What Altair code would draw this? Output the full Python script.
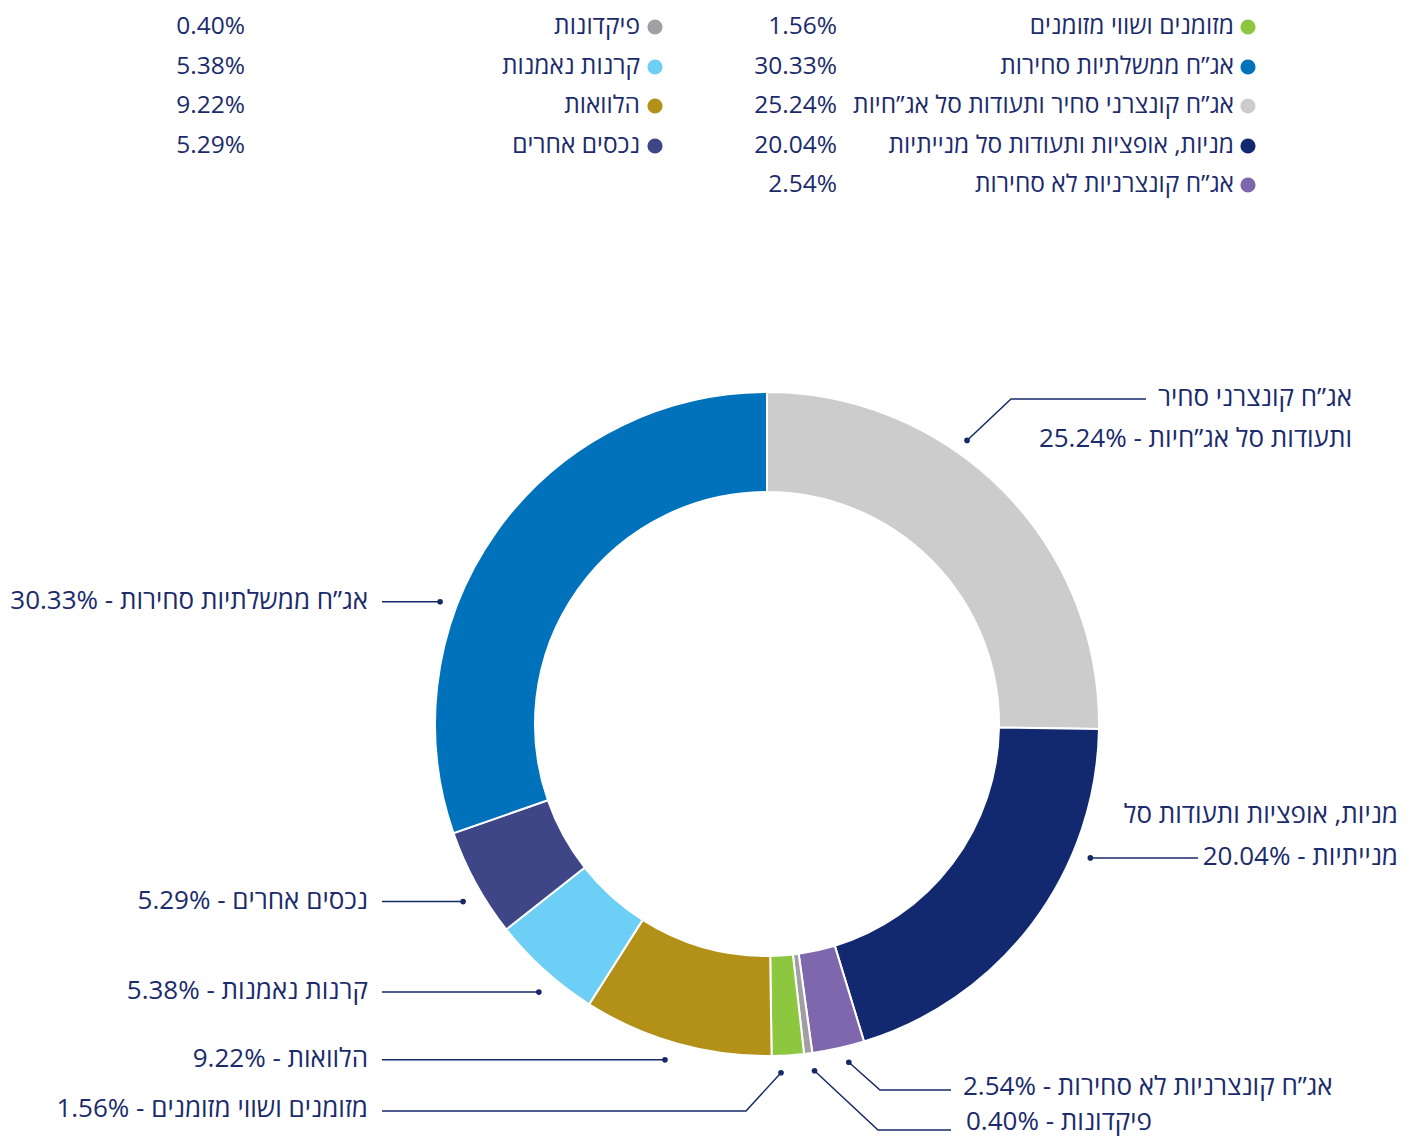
import math
import altair as alt
import pandas as pd

# ---------------- data ----------------
categories = [
    "אג”ח קונצרני סחיר ותעודות סל אג”חיות",
    "מניות, אופציות ותעודות סל מנייתיות",
    "אג”ח קונצרניות לא סחירות",
    "פיקדונות",
    "מזומנים ושווי מזומנים",
    "הלוואות",
    "קרנות נאמנות",
    "נכסים אחרים",
    "אג”ח ממשלתיות סחירות",
]
values = [25.24, 20.04, 2.54, 0.40, 1.56, 9.22, 5.38, 5.29, 30.33]
colors = ["#cccccc", "#13296f", "#7f67ad", "#a0a0a4", "#8dc63f",
          "#b39018", "#6dcff6", "#3f4688", "#0072bc"]

# slice-label text lines (the percentage is appended to the last line)
label_lines = [
    ["אג”ח קונצרני סחיר", "ותעודות סל אג”חיות"],
    ["מניות, אופציות ותעודות סל", "מנייתיות"],
    ["אג”ח קונצרניות לא סחירות"],
    ["פיקדונות"],
    ["מזומנים ושווי מזומנים"],
    ["הלוואות"],
    ["קרנות נאמנות"],
    ["נכסים אחרים"],
    ["אג”ח ממשלתיות סחירות"],
]

# legend: category indexes for right column then left column
legend_right = [4, 8, 0, 1, 2]
legend_left = [3, 6, 5, 7]

# ---------------- layout ----------------
W, H = 1415, 1138
CX, CY = 767, 724
R_OUT, R_IN = 332, 232
TXT = "#1b2b6b"
LINE = "#172a68"
FONT = "Open Sans"
FS_LABEL = 26
FS_LEG = 24.5

label_layout = [
    dict(ang=35.2, r=347, path=[(1011, 399), (1146, 399)], align="right", tx=1352, ty=[398, 439]),
    dict(ang=112.5, r=350, path=[(1198, None)], align="right", tx=1398, ty=[815, 857]),
    dict(ang=166.4, r=348, path=[(880, 1090), (951, 1090)], align="left", tx=963, ty=[1087]),
    dict(ang=172.2, r=350, path=[(878, 1130), (951, 1130)], align="left", tx=966, ty=[1122]),
    dict(ang=177.7, r=349, path=[(746, 1111), (382, 1111)], align="right", tx=368, ty=[1109]),
    dict(ang=196.9, r=351, path=[(382, None)], align="right", tx=368, ty=[None]),
    dict(ang=220.4, r=352, path=[(382, None)], align="right", tx=368, ty=[None]),
    dict(ang=239.7, r=352, path=[(382, None)], align="right", tx=368, ty=[None]),
    dict(ang=290.5, r=349, path=[(382, None)], align="right", tx=368, ty=[None]),
]

legend_cols = [
    dict(cx=1248, tx=1234, px=837, rows=legend_right),
    dict(cx=655, tx=640, px=245, rows=legend_left),
]
legend_row_y = [27, 67, 106, 146, 185]


def pct(v):
    return f"{v:.2f}%"


# ---------------- tables ----------------
slices = pd.DataFrame({
    "cat": categories,
    "value": values,
    "color": colors,
    "idx": list(range(len(categories))),
})

line_rows, dot_rows, text_rows = [], [], []
for i, lay in enumerate(label_layout):
    a = math.radians(lay["ang"])
    dx = CX + lay["r"] * math.sin(a)
    dy = CY - lay["r"] * math.cos(a)
    dot_rows.append({"cat": categories[i], "x": dx, "y": dy})
    pts = [(dx, dy)] + [(px, dy if py is None else py) for px, py in lay["path"]]
    for s, (px, py) in enumerate(pts):
        line_rows.append({"cat": categories[i], "seq": s, "x": px, "y": py})
    lines = list(label_lines[i])
    lines[-1] = lines[-1] + " - " + pct(values[i])
    for ln, ty in zip(lines, lay["ty"]):
        text_rows.append({"text": ln, "x": lay["tx"], "y": dy - 1 if ty is None else ty,
                          "align": lay["align"]})

leg_rows = []
for col in legend_cols:
    for r, ci in enumerate(col["rows"]):
        leg_rows.append({"cat": categories[ci], "color": colors[ci],
                         "name": categories[ci], "pct": pct(values[ci]),
                         "y": legend_row_y[r],
                         "cx": col["cx"], "tx": col["tx"], "px": col["px"]})
lines_df = pd.DataFrame(line_rows)
dots_df = pd.DataFrame(dot_rows)
text_df = pd.DataFrame(text_rows)
leg_df = pd.DataFrame(leg_rows)

xs = alt.Scale(domain=[0, W], range=[0, W], nice=False, zero=False)
ys = alt.Scale(domain=[0, H], range=[0, H], nice=False, zero=False)


def X(f):
    return alt.X(f + ":Q", scale=xs, axis=None)


def Y(f):
    return alt.Y(f + ":Q", scale=ys, axis=None)


arcs = alt.Chart(slices).mark_arc(
    innerRadius=R_IN, outerRadius=R_OUT, stroke="white", strokeWidth=2
).encode(
    theta=alt.Theta("value:Q", stack=True),
    color=alt.Color("color:N", scale=None),
    order=alt.Order("idx:Q", sort="ascending"),
    x=alt.value(CX),
    y=alt.value(CY),
)

leaders = alt.Chart(lines_df).mark_line(color=LINE, strokeWidth=1.5).encode(
    x=X("x"), y=Y("y"), detail="cat:N", order="seq:Q"
)
dots = alt.Chart(dots_df).mark_circle(color=LINE, size=32, opacity=1).encode(
    x=X("x"), y=Y("y")
)
txt_r = alt.Chart(text_df[text_df["align"] == "right"]).mark_text(
    align="right", baseline="middle", font=FONT, fontSize=FS_LABEL, color=TXT
).encode(x=X("x"), y=Y("y"), text="text:N")
txt_l = alt.Chart(text_df[text_df["align"] == "left"]).mark_text(
    align="left", baseline="middle", font=FONT, fontSize=FS_LABEL, color=TXT
).encode(x=X("x"), y=Y("y"), text="text:N")

leg_dots = alt.Chart(leg_df).mark_circle(size=230, opacity=1).encode(
    x=X("cx"), y=Y("y"), color=alt.Color("color:N", scale=None)
)
leg_names = alt.Chart(leg_df).mark_text(
    align="right", baseline="middle", font=FONT, fontSize=FS_LEG, color=TXT
).encode(x=X("tx"), y=Y("y"), text="name:N")
leg_pcts = alt.Chart(leg_df).mark_text(
    align="right", baseline="middle", font=FONT, fontSize=FS_LEG, color=TXT
).encode(x=X("px"), y=Y("y"), text="pct:N")

chart = alt.layer(
    arcs, leaders, dots, txt_r, txt_l, leg_dots, leg_names, leg_pcts
).properties(
    width=W, height=H, autosize="none", padding=0
).configure_view(stroke=None)

chart.save("out.html", embed_options={"renderer": "svg", "actions": False})
